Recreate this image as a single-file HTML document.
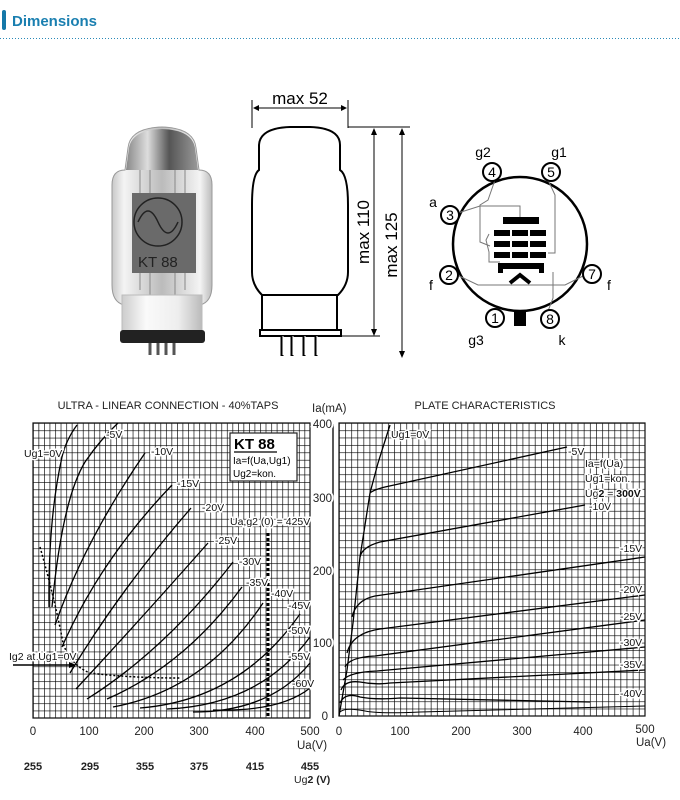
<!DOCTYPE html>
<html><head><meta charset="utf-8"><style>
html,body{margin:0;padding:0;background:#fff;width:680px;height:800px;overflow:hidden}
svg{display:block;font-family:"Liberation Sans",Arial,sans-serif}
.lb{font-size:10.5px;fill:#111;stroke:#fff;stroke-width:3px;paint-order:stroke}
.ax{font-size:11.5px;fill:#222}
.c{fill:none;stroke:#000;stroke-width:1.3}
</style></head><body>
<svg width="680" height="800" viewBox="0 0 680 800" xmlns="http://www.w3.org/2000/svg">
<defs>
<pattern id="gL" x="33" y="423" width="5.54" height="7.375" patternUnits="userSpaceOnUse">
<path d="M0 0V7.375M0 0H5.54" stroke="#000" stroke-width="1.3" fill="none"/></pattern>
<pattern id="gR" x="339" y="423" width="6.12" height="7.325" patternUnits="userSpaceOnUse">
<path d="M0 0V7.325M0 0H6.12" stroke="#000" stroke-width="1.3" fill="none"/></pattern>
<linearGradient id="glass" x1="0" x2="1"><stop offset="0" stop-color="#c8c8c8"/><stop offset=".12" stop-color="#f4f4f4"/><stop offset=".5" stop-color="#bbb"/><stop offset=".88" stop-color="#f4f4f4"/><stop offset="1" stop-color="#bbb"/></linearGradient>
<linearGradient id="base" x1="0" x2="1"><stop offset="0" stop-color="#ccc"/><stop offset=".3" stop-color="#fafafa"/><stop offset=".7" stop-color="#eee"/><stop offset="1" stop-color="#bbb"/></linearGradient>
<linearGradient id="dome" x1="0" x2="1"><stop offset="0" stop-color="#888"/><stop offset=".3" stop-color="#ddd"/><stop offset=".6" stop-color="#555"/><stop offset="1" stop-color="#999"/></linearGradient>
</defs>
<!-- header -->
<rect x="2" y="10" width="4" height="20" rx="2" fill="#1478a8"/>
<text x="12" y="26" font-size="15" font-weight="bold" fill="#1a7fb0">Dimensions</text>
<line x1="0" y1="38.5" x2="680" y2="38.5" stroke="#2a8ab8" stroke-width="1" stroke-dasharray="1 2"/>

<!-- photo -->
<path d="M112 185 Q112 170 125 170 L128 148 Q130 128 162 127 Q194 128 196 148 L199 170 Q212 170 212 185 L212 285 Q212 302 200 305 L124 305 Q112 302 112 285Z" fill="url(#glass)" stroke="#999"/>
<path d="M126 170 L129 148 Q132 130 162 129 Q192 130 195 148 L198 170Z" fill="url(#dome)"/>
<path d="M140 170v120M150 170v125M175 170v125M185 170v120" stroke="#888" stroke-width="1"/>
<rect x="132" y="193" width="64" height="80" fill="#6a6a6a"/>
<circle cx="158" cy="222" r="24" fill="none" stroke="#222" stroke-width="1.5"/>
<path d="M138 222 Q148 200 158 222 Q168 244 178 222" fill="none" stroke="#222" stroke-width="1.5"/>
<text x="138" y="267" font-size="15" fill="#222">KT 88</text>
<rect x="122" y="295" width="80" height="37" fill="url(#base)" stroke="#bbb"/>
<rect x="120" y="330" width="85" height="13" rx="3" fill="#222"/>
<path d="M150 343v12M158 343v12M166 343v12M174 343v12" stroke="#555" stroke-width="3"/>

<!-- outline drawing -->
<path d="M262 295 Q252 285 252 272 L252 205 Q252 175 259 170 L259 145 Q260 128 290 127 L310 127 Q340 128 340 145 L340 170 Q348 175 348 205 L348 272 Q348 285 338 295Z" fill="none" stroke="#000" stroke-width="2"/>
<rect x="262" y="295" width="75" height="35" fill="#fff" stroke="#000" stroke-width="2"/>
<rect x="260" y="330" width="81" height="6" fill="#fff" stroke="#000" stroke-width="2"/>
<path d="M282 336v20M292 336v20M304 336v20M316 336v20" stroke="#000" stroke-width="3"/>
<path d="M283 336v19M293 336v19M305 336v19M317 336v19" stroke="#fff" stroke-width="1"/>
<line x1="252" y1="100" x2="252" y2="128" stroke="#000"/>
<line x1="348" y1="100" x2="348" y2="128" stroke="#000"/>
<line x1="255" y1="108" x2="345" y2="108" stroke="#000"/>
<path d="M253 108l6-3v6zM347 108l-6-3v6z" fill="#000"/>
<text x="300" y="104" font-size="17" text-anchor="middle">max 52</text>
<line x1="348" y1="127" x2="410" y2="127" stroke="#000"/>
<line x1="341" y1="336" x2="380" y2="336" stroke="#000"/>
<line x1="374" y1="130" x2="374" y2="334" stroke="#000"/>
<path d="M374 128l-3 7h6zM374 336l-3-7h6z" fill="#000"/>
<line x1="402" y1="130" x2="402" y2="356" stroke="#000"/>
<path d="M402 128l-3 7h6zM402 358l-3-7h6z" fill="#000"/>
<text transform="translate(369 232) rotate(-90)" font-size="17" text-anchor="middle">max 110</text>
<text transform="translate(397 245) rotate(-90)" font-size="17" text-anchor="middle">max 125</text>

<!-- pin diagram -->
<circle cx="520" cy="244" r="67" fill="none" stroke="#000" stroke-width="2.5"/>
<g fill="none" stroke="#777" stroke-width="1">
<path d="M495 180 L488 200 L480 205 L480 242 L490 246"/>
<path d="M458 213 L480 206 L520 206 L520 218"/>
<path d="M548 180 L555 195 L555 253 L548 253"/>
<path d="M457 275 L478 285 L565 285 L585 275"/>
<path d="M548 311 L553 298 L553 272"/>
<path d="M489 234 L486 240 L489 252 L489 262 L500 262"/>
</g>
<g fill="#000">
<rect x="503" y="217" width="36" height="7"/>
<rect x="494" y="230" width="16" height="6"/><rect x="512" y="230" width="16" height="6"/><rect x="530" y="230" width="16" height="6"/>
<rect x="494" y="241" width="16" height="6"/><rect x="512" y="241" width="16" height="6"/><rect x="530" y="241" width="16" height="6"/>
<rect x="494" y="252" width="16" height="6"/><rect x="512" y="252" width="16" height="6"/><rect x="530" y="252" width="16" height="6"/>
<rect x="498" y="263" width="46" height="6"/><rect x="498" y="263" width="5" height="10"/><rect x="539" y="263" width="5" height="10"/>
<rect x="514" y="310" width="12" height="16"/>
</g>
<path d="M510 283 L520 275 L530 283" fill="none" stroke="#000" stroke-width="4"/>
<g fill="#fff" stroke="#000" stroke-width="2">
<circle cx="492" cy="172" r="9"/><circle cx="551" cy="172" r="9"/><circle cx="450" cy="215" r="9"/>
<circle cx="449" cy="275" r="9"/><circle cx="592" cy="274" r="9"/><circle cx="495" cy="318" r="9"/><circle cx="550" cy="319" r="9"/>
</g>
<g font-size="14" text-anchor="middle">
<text x="492" y="177">4</text><text x="551" y="177">5</text><text x="450" y="220">3</text>
<text x="449" y="280">2</text><text x="592" y="279">7</text><text x="495" y="323">1</text><text x="550" y="324">8</text>
<text x="483" y="157">g2</text><text x="559" y="157">g1</text><text x="433" y="207">a</text>
<text x="431" y="290">f</text><text x="609" y="290">f</text><text x="476" y="345">g3</text><text x="562" y="345">k</text>
</g>

<!-- left chart -->
<text x="168" y="409" font-size="11" text-anchor="middle" fill="#222">ULTRA - LINEAR CONNECTION - 40%TAPS</text>
<rect x="33" y="423" width="277" height="295" fill="url(#gL)"/>
<path d="M33 423H310V718H33Z" fill="none" stroke="#111" stroke-width="1.2"/>
<g class="c">
<path d="M62 457 Q66 440 77 425"/>
<path d="M49 607 Q48 520 62 457"/>
<path d="M52 607 Q62 500 85 462 Q100 440 118 423"/>
<path d="M55 625 Q85 540 145 453"/>
<path d="M62 647 Q100 560 172 485"/>
<path d="M70 673 Q120 590 191 508"/>
<path d="M76 689 Q140 620 208 543"/>
<path d="M87 699 Q165 650 233 562"/>
<path d="M107 699 Q185 665 242 587"/>
<path d="M113 707 Q205 690 263 603"/>
<path d="M140 708 Q240 700 300 614"/>
<path d="M167 709 Q260 705 310 637"/>
<path d="M193 712 Q270 712 310 663"/>
<path d="M213 710 Q280 712 310 688"/>
</g>
<path d="M40 547 Q55 600 63 643 Q70 665 90 673 Q130 678 180 678" fill="none" stroke="#000" stroke-width="1.5" stroke-dasharray="2 2"/>
<line x1="268" y1="533" x2="268" y2="718" stroke="#000" stroke-width="3" stroke-dasharray="3 2"/>
<line x1="13" y1="665" x2="70" y2="665" stroke="#000" stroke-width="1.5"/>
<path d="M76 665l-7-3v6z" fill="#000"/>
<rect x="230" y="433" width="67" height="48" fill="#fff" stroke="#222" stroke-width="1.2"/>
<text x="234" y="449" font-size="15" font-weight="bold">KT 88</text>
<line x1="234" y1="452" x2="277" y2="452" stroke="#000" stroke-width="1.2"/>
<text x="233" y="464" font-size="10">Ia=f(Ua,Ug1)</text>
<text x="233" y="477" font-size="10">Ug2=kon.</text>
<text class="lb" x="24" y="457">Ug1=0V</text>
<text class="lb" x="106" y="438">-5V</text>
<text class="lb" x="151" y="455">-10V</text>
<text class="lb" x="177" y="487">-15V</text>
<text class="lb" x="202" y="511">-20V</text>
<text class="lb" x="215" y="544">-25V</text>
<text class="lb" x="239" y="565">-30V</text>
<text class="lb" x="246" y="586">-35V</text>
<text class="lb" x="271" y="597">-40V</text>
<text class="lb" x="288" y="609">-45V</text>
<text class="lb" x="288" y="634">-50V</text>
<text class="lb" x="288" y="660">-55V</text>
<text class="lb" x="292" y="687">-60V</text>
<text class="lb" x="230" y="525">Ua,g2 (0) = 425V</text>
<text class="lb" x="9" y="660">Ig2 at Ug1=0V</text>
<g class="ax" text-anchor="middle">
<text x="33" y="735">0</text><text x="89" y="735">100</text><text x="144" y="735">200</text>
<text x="199" y="735">300</text><text x="255" y="735">400</text><text x="310" y="735">500</text>
</g>
<text class="ax" x="297" y="749">Ua(V)</text>
<g font-size="11" font-weight="bold" text-anchor="middle" fill="#222">
<text x="33" y="770">255</text><text x="90" y="770">295</text><text x="145" y="770">355</text>
<text x="199" y="770">375</text><text x="255" y="770">415</text><text x="310" y="770">455</text>
</g>
<text x="294" y="783" font-size="10.5" fill="#222">Ug<tspan font-weight="bold">2 (V)</tspan></text>

<!-- middle axis -->
<text class="ax" x="312" y="412">Ia(mA)</text>
<line x1="333" y1="424" x2="333" y2="718" stroke="#000" stroke-width="1.3"/>
<g class="ax" text-anchor="end" style="stroke:#fff;stroke-width:4px;paint-order:stroke">
<text x="332" y="428">400</text><text x="332" y="502">300</text><text x="332" y="575">200</text>
<text x="332" y="647">100</text><text x="328" y="720">0</text>
</g>

<!-- right chart -->
<text x="485" y="409" font-size="11" text-anchor="middle" fill="#222">PLATE CHARACTERISTICS</text>
<rect x="339" y="423" width="306" height="293" fill="url(#gR)"/>
<path d="M339 423H645V716H339Z" fill="none" stroke="#111" stroke-width="1.2"/>
<g class="c">
<path d="M339 716 L347 670 L353 623 L360 557 L370 493 L378 463 L390 425"/>
<path d="M370 493 Q373 490 385 487 L567 447"/>
<path d="M360 557 Q362 547 380 542 L585 505"/>
<path d="M352 617 Q356 600 375 596 L645 557"/>
<path d="M347 653 Q352 633 380 629 L645 595"/>
<path d="M345 667 Q350 657 375 656 L645 620"/>
<path d="M343 680 Q350 672 377 671 L645 647"/>
<path d="M341 690 Q345 680 360 682 Q375 685 390 683 L645 670"/>
<path d="M340 703 Q345 692 360 697 Q375 700 400 698 L590 702"/>
<path d="M340 712 Q345 707 365 711 Q380 714 420 712 L645 706" stroke-width="1"/>
</g>
<text class="lb" x="391" y="438">Ug1=0V</text>
<text class="lb" x="568" y="455">-5V</text>
<text class="lb" x="585" y="467">Ia=f(Ua)</text>
<text class="lb" x="585" y="482">Ug1=kon.</text>
<text class="lb" x="585" y="497">Ug<tspan font-weight="bold">2</tspan> = <tspan font-weight="bold">300V</tspan></text>
<text class="lb" x="589" y="510">-10V</text>
<text class="lb" x="620" y="552">-15V</text>
<text class="lb" x="620" y="593">-20V</text>
<text class="lb" x="620" y="620">-25V</text>
<text class="lb" x="620" y="646">-30V</text>
<text class="lb" x="620" y="668">-35V</text>
<text class="lb" x="620" y="697">-40V</text>
<g class="ax" text-anchor="middle">
<text x="339" y="735">0</text><text x="400" y="735">100</text><text x="461" y="735">200</text>
<text x="522" y="735">300</text><text x="583" y="735">400</text><text x="645" y="733">500</text>
</g>
<text class="ax" x="636" y="746">Ua(V)</text>
</svg>
</body></html>
